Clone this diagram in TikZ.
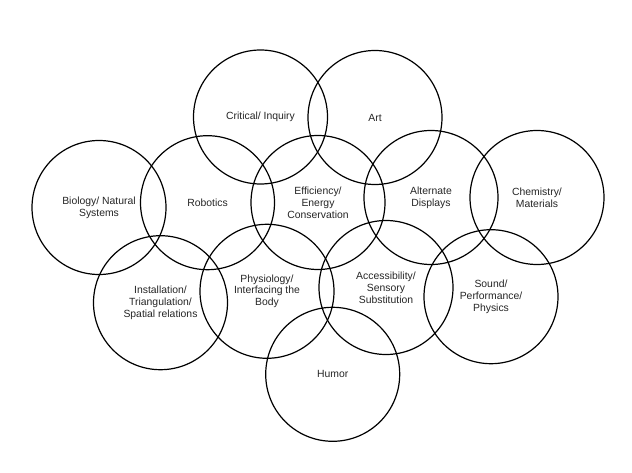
\documentclass[tikz,border=0pt]{standalone}
\usepackage{fontspec}
\setmainfont{Liberation Sans}
\begin{document}
\begin{tikzpicture}[x=1pt,y=-1pt,
  topic/.style={circle,draw=black,line width=1.2pt,minimum size=134pt,inner sep=0pt,
    align=center,text=black!85,font=\fontsize{10.4}{11.8}\selectfont}]
\useasboundingbox (0,0) rectangle (632,473);
\fill[white] (0,0) rectangle (632,473);
\node[topic] (crit) at (260.5,117) {Critical/ Inquiry};
\node[topic] (art) at (375,117.5) {Art};
\node[topic] (bio) at (99,207.5) {Biology/ Natural\\Systems};
\node[topic] (rob) at (207.5,202.7) {Robotics};
\node[topic] (eff) at (318,202.5) {Efficiency/\\Energy\\Conservation};
\node[topic] (alt) at (431,197.5) {Alternate\\Displays};
\node[topic] (chem) at (537,197.5) {Chemistry/\\Materials};
\node[topic] (inst) at (160.5,302.7) {Installation/\\Triangulation/\\Spatial relations};
\node[topic] (phys) at (267,291.3) {Physiology/\\Interfacing the\\Body};
\node[topic] (acc) at (386,287.5) {Accessibility/\\Sensory\\Substitution};
\node[topic] (snd) at (491,296.7) {Sound/\\Performance/\\Physics};
\node[topic] (hum) at (332.7,374.3) {Humor};
\end{tikzpicture}
\end{document}
